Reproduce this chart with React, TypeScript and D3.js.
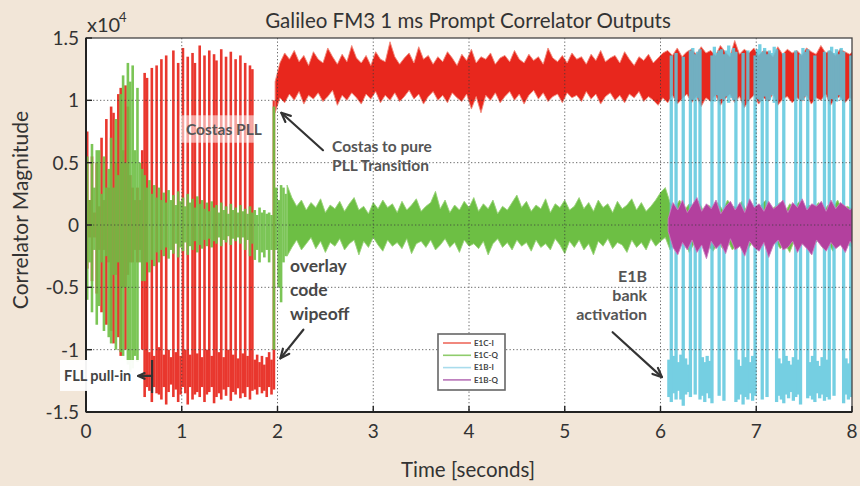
import React from 'react';
import * as d3 from 'd3';

// ---------- axis / tick data ----------
const xTickValues = [0, 1, 2, 3, 4, 5, 6, 7, 8];
const xTickLabels = ['0', '1', '2', '3', '4', '5', '6', '7', '8'];
const yTickValues = [-1.5, -1, -0.5, 0, 0.5, 1, 1.5];
const yTickLabels = ['-1.5', '-1', '-0.5', '0', '0.5', '1', '1.5'];

const seriesNames = ['E1C-I', 'E1C-Q', 'E1B-I', 'E1B-Q'];
const seriesColors = ['#e8271d', '#6dbf44', '#5ec7de', '#b3409e'];
const legendLineColors = ['#ee6a5e', '#8fcc6c', '#a9dcec', '#b873b8'];

// ---------- E1C-I (units of 1e4) : binned columns 0 .. 1.975 s, 25 ms ----------
const e1cIColStart = 0;
const e1cIColStep = 0.025;
const e1cIColHi = [0.75, 0.2, 0.55, 0.1, 0.5, 0.15, 0.7, 0.2, 0.85, 0.3, 0.95, 0.9, 0.5, 1.05, 1.1, 0.6, 1.12, 0.95, 0.4, 0.3, 0.2, 0.3, 0.2, 0.6,
  1.22, 1.18, -1.02, 1.26, -1.05, 1.28, -0.98, 1.33, -1.04, 1.36, -1.0, -1.06, 1.4, -1.02, 1.3, -1.05, 1.42, -1.0, 1.35, -1.04, 1.38, 1.3, -1.03, 1.44, -1.06, 1.36, -1.0, 1.4, -1.05, 1.37, 1.32, -1.02, 1.41, -1.06, 1.35, -1.0, 1.39, -1.04, 1.33, -1.07, 1.36, -1.03, 1.3, -1.05, 1.28, 1.25, -1.08, -1.04, -1.1, -1.05, -1.12, -1.06, -1.02, -1.08, 1.0];
const e1cIColLo = [-0.35, -0.1, -0.45, -0.1, -0.55, -0.2, -0.7, -0.2, -0.8, -0.3, -0.85, -0.95, -0.4, -0.9, -1.05, -0.5, -1.0, -0.4, -0.3, -0.3, -0.2, -0.3, -0.2, -1.0,
  -1.38, -1.3, -1.33, -1.42, -1.3, -1.35, -1.36, -1.4, -1.3, -1.44, -1.34, -1.28, -1.38, -1.32, -1.42, -1.36, -1.3, -1.35, -1.44, -1.3, -1.4, -1.36, -1.34, -1.38, -1.3, -1.42, -1.36, -1.34, -1.3, -1.43, -1.38, -1.35, -1.4, -1.32, -1.37, -1.3, -1.41, -1.34, -1.36, -1.31, -1.39, -1.35, -1.38, -1.3, -1.4, -1.33, -1.32, -1.36, -1.3, -1.35, -1.33, -1.38, -1.3, -1.36, -1.32];

// ---------- E1C-I : noise band after PLL lock, 1.975 .. 8 s, 50 ms ----------
const e1cIBandStart = 1.975;
const e1cIBandStep = 0.05;
const e1cIBandHi = [1.15, 1.3, 1.38, 1.33, 1.4, 1.31, 1.36, 1.28, 1.39, 1.33,
  1.3, 1.42, 1.35, 1.29, 1.37, 1.31, 1.44, 1.34, 1.3, 1.36,
  1.28, 1.39, 1.33, 1.31, 1.47, 1.35, 1.29, 1.34, 1.38, 1.3,
  1.43, 1.33, 1.36, 1.29, 1.35, 1.31, 1.39, 1.34, 1.28, 1.37,
  1.32, 1.41, 1.3, 1.35, 1.33, 1.38, 1.29, 1.34, 1.36, 1.31,
  1.4, 1.33, 1.3, 1.37, 1.32, 1.35, 1.29, 1.42, 1.34, 1.31,
  1.36, 1.3, 1.38, 1.33, 1.35, 1.29, 1.37, 1.32, 1.4, 1.31,
  1.34, 1.36, 1.3, 1.39, 1.33, 1.28, 1.35, 1.32, 1.37, 1.3,
  1.34, 1.38, 1.4, 1.36, 1.42, 1.35, 1.39, 1.41, 1.37, 1.43,
  1.38, 1.4, 1.36, 1.44, 1.39, 1.35, 1.48, 1.37, 1.41, 1.38,
  1.42, 1.36, 1.4, 1.39, 1.35, 1.43, 1.37, 1.41, 1.38, 1.4,
  1.36, 1.42, 1.39, 1.37, 1.44, 1.38, 1.4, 1.36, 1.41, 1.39,
  1.37, 1.4];
const e1cIBandLo = [0.9, 1.02, 0.98, 1.05, 1.0, 1.07, 0.97, 1.04, 1.01, 1.06,
  0.99, 1.03, 1.08, 0.96, 1.04, 1.0, 1.06, 1.02, 0.97, 1.05,
  1.01, 1.07, 0.98, 1.04, 1.0, 1.06, 0.99, 1.03, 1.08, 1.01,
  1.05, 0.97, 1.03, 1.07, 1.0, 1.04, 0.98, 1.06, 1.02, 0.99,
  1.05, 0.93, 1.03, 0.9, 1.04, 1.0, 1.06, 0.98, 1.03, 1.07,
  1.0, 1.05, 0.97, 1.04, 1.08, 1.01, 1.06, 0.99, 1.03, 1.05,
  0.98, 1.06, 1.02, 1.04, 0.99, 1.07, 1.01, 1.05, 0.97, 1.03,
  1.06, 1.0, 1.04, 0.98, 1.05, 1.02, 1.07, 0.99, 1.03, 1.0,
  0.96, 1.02, 0.98, 1.04, 0.97, 1.01, 1.05, 0.98, 1.03, 0.95,
  1.02, 0.99, 1.04, 0.96, 1.01, 1.05, 0.98, 1.03, 0.94, 1.0,
  1.04, 0.97, 1.02, 0.99, 1.05, 0.96, 1.01, 1.03, 0.98, 1.02,
  0.99, 1.04, 0.97, 1.02, 1.0, 1.05, 0.96, 1.01, 1.03, 0.98,
  1.02, 0.99];

// ---------- E1C-Q : binned columns 0 .. 2.1 s, 25 ms ----------
const e1cQColStart = 0;
const e1cQColStep = 0.025;
const e1cQColHi = [0.55, 0.2, 0.65, 0.3, 0.6, 0.6, 0.25, 0.55, 0.3, 0.45, 0.7, 0.3, 0.85, 0.4, 1.05, 1.2, 0.5, 1.3, 1.15, 1.28, 0.6, 1.1, 0.5, 0.45,
  0.4, 0.3, 0.36, 0.25, 0.32, 0.22, 0.3, 0.2,
  0.26, 0.18, 0.28, 0.2, 0.24, 0.16, 0.27, 0.19, 0.22, 0.15, 0.25, 0.18, 0.21, 0.14, 0.23, 0.17,
  0.2, 0.13, 0.18, 0.11, 0.19, 0.14, 0.16, 0.1, 0.18, 0.12, 0.15, 0.09, 0.17, 0.12, 0.14, 0.1, 0.16, 0.11, 0.13, 0.09, 0.15, 0.1, 0.12, 0.08, 0.14, 0.1, 0.12, 0.09,
  0.1, 0.08, 0.95, 0.3, 0.2, 0.32, 0.3, 0.25];
const e1cQColLo = [-0.6, -0.3, -0.7, -0.2, -0.8, -0.65, -0.3, -0.85, -0.25, -0.9, -0.95, -0.4, -1.0, -0.3, -1.02, -1.05, -0.5, -1.12, -1.18, -1.15, -1.05, -1.1, -0.3, -0.45,
  -0.45, -0.3, -0.38, -0.28, -0.33, -0.22, -0.3, -0.2,
  -0.25, -0.18, -0.27, -0.2, -0.23, -0.15, -0.26, -0.18, -0.21, -0.14, -0.24, -0.17, -0.2, -0.13, -0.22, -0.16,
  -0.19, -0.12, -0.17, -0.11, -0.18, -0.13, -0.15, -0.1, -0.17, -0.12, -0.14, -0.09, -0.16, -0.11, -0.13, -0.1, -0.15, -0.1, -0.2, -0.12, -0.25, -0.15, -0.28, -0.2, -0.3, -0.22, -0.26, -0.2,
  -0.3, -0.2, -1.0, -0.2, -0.5, -0.62, -0.3, -0.25];

// ---------- E1C-Q : noise band 2.1 .. 8 s, 50 ms ----------
const e1cQBandStart = 2.1;
const e1cQBandStep = 0.05;
const e1cQBandHi = [0.32, 0.22, 0.15, 0.2, 0.12, 0.18, 0.14, 0.21, 0.1, 0.16,
  0.13, 0.19, 0.11, 0.17, 0.22, 0.12, 0.15, 0.09, 0.18, 0.13,
  0.2, 0.14, 0.17, 0.1, 0.19, 0.12, 0.16, 0.21, 0.11, 0.15,
  0.18, 0.27, 0.13, 0.2, 0.1, 0.16, 0.12, 0.19, 0.14, 0.22,
  0.11, 0.17, 0.13, 0.2, 0.09, 0.15, 0.12, 0.18, 0.24, 0.14,
  0.19, 0.11, 0.16, 0.13, 0.21, 0.1, 0.17, 0.14, 0.2, 0.12,
  0.15, 0.22, 0.13, 0.18, 0.11, 0.2, 0.14, 0.17, 0.1, 0.19,
  0.13, 0.16, 0.21, 0.12, 0.18, 0.11, 0.15, 0.2, 0.26, 0.3,
  0.18, 0.14, 0.2, 0.12, 0.17, 0.15, 0.19, 0.11, 0.16, 0.13,
  0.18, 0.12, 0.2, 0.15, 0.14, 0.19, 0.11, 0.17, 0.13, 0.16,
  0.2, 0.12, 0.15, 0.18, 0.1, 0.17, 0.14, 0.19, 0.12, 0.16,
  0.13, 0.18, 0.11, 0.16, 0.14, 0.2, 0.12, 0.15, 0.13];
const e1cQBandLo = [-0.25, -0.18, -0.12, -0.2, -0.15, -0.1, -0.19, -0.13, -0.22, -0.14,
  -0.17, -0.11, -0.2, -0.15, -0.12, -0.24, -0.13, -0.18, -0.1, -0.16,
  -0.21, -0.12, -0.17, -0.14, -0.19, -0.11, -0.23, -0.15, -0.13, -0.18,
  -0.12, -0.2, -0.16, -0.11, -0.18, -0.14, -0.22, -0.12, -0.17, -0.15,
  -0.19, -0.13, -0.24, -0.15, -0.11, -0.18, -0.14, -0.2, -0.12, -0.17,
  -0.14, -0.21, -0.12, -0.18, -0.15, -0.2, -0.11, -0.16, -0.23, -0.13,
  -0.18, -0.12, -0.2, -0.15, -0.24, -0.13, -0.17, -0.11, -0.19, -0.14,
  -0.16, -0.22, -0.12, -0.18, -0.14, -0.2, -0.11, -0.17, -0.13, -0.1,
  -0.2, -0.14, -0.18, -0.12, -0.22, -0.15, -0.19, -0.13, -0.17, -0.21,
  -0.14, -0.19, -0.12, -0.2, -0.16, -0.13, -0.21, -0.15, -0.18, -0.12,
  -0.17, -0.2, -0.13, -0.19, -0.15, -0.22, -0.12, -0.18, -0.14, -0.2,
  -0.16, -0.12, -0.19, -0.14, -0.21, -0.13, -0.17, -0.15, -0.18];

// ---------- E1B-I : binned columns 6.075 .. 8 s, 25 ms ----------
const e1bIColStart = 6.075;
const e1bIColStep = 0.025;
const e1bIColHi = [-1.08, 1.36, -1.05, 1.38, -1.1, -1.04, 1.35, -1.07, -1.12, 1.4,
  1.42, 1.37, 1.39, 1.41, -1.06, -1.1, -1.05, -1.09, 1.36, 1.43,
  1.38, 1.4, 1.41, 1.37, 1.4, 1.44, 1.38, 1.42, 1.39, -1.08,
  -1.13, 1.38, -1.06, 1.4, -1.1, -1.05, 1.36, 1.41, 1.45, 1.39,
  1.42, 1.37, 1.4, 1.38, 1.43, 1.41, -1.07, -1.11, 1.38, -1.05,
  -1.09, -1.12, -1.06, 1.4, -1.08, 1.37, 1.42, 1.39, 1.41, -1.1,
  -1.05, 1.36, -1.09, -1.13, -1.06, 1.39, -1.08, 1.4, 1.43, 1.38,
  1.41, 1.37, 1.42, 1.39, -1.07, -1.11, 1.36];
const e1bIColLo = [-1.38, -1.42, -1.35, -1.4, -1.33, -1.4, -1.45, -1.36, -1.34, -1.38,
  1.0, -1.36, 1.02, -1.4, -1.37, -1.42, -1.35, -1.39, -1.43, 0.99,
  1.04, -1.37, 1.01, -1.41, 1.03, 0.98, 1.02, 1.0, -1.42, -1.4,
  -1.36, -1.44, -1.38, -1.4, -1.35, -1.41, -1.37, 1.01, 0.99, -1.4,
  1.03, -1.38, 1.0, 1.04, 0.98, -1.42, -1.37, -1.4, -1.43, -1.36,
  -1.39, -1.34, -1.41, -1.38, -1.36, -1.44, 1.0, 1.03, -1.39, -1.37,
  -1.4, -1.42, -1.35, -1.39, -1.36, -1.41, -1.38, -1.4, 1.01, -1.37,
  0.99, 1.04, 1.0, -1.43, -1.36, -1.4, -1.38];

// ---------- E1B-Q : noise band 6.08 .. 8 s, 50 ms ----------
const e1bQBandStart = 6.08;
const e1bQBandStep = 0.05;
const e1bQBandHi = [0.05, 0.18, 0.12, 0.2, 0.1, 0.16, 0.22, 0.11, 0.17, 0.13,
  0.2, 0.09, 0.15, 0.19, 0.12, 0.18, 0.1, 0.21, 0.14, 0.17,
  0.11, 0.19, 0.13, 0.16, 0.2, 0.1, 0.18, 0.14, 0.21, 0.12,
  0.17, 0.15, 0.19, 0.11, 0.2, 0.13, 0.18, 0.15, 0.12, 0.16];
const e1bQBandLo = [-0.05, -0.18, -0.24, -0.14, -0.2, -0.12, -0.22, -0.16, -0.27, -0.13,
  -0.19, -0.15, -0.23, -0.11, -0.2, -0.17, -0.25, -0.13, -0.18, -0.21,
  -0.14, -0.26, -0.16, -0.12, -0.2, -0.18, -0.13, -0.22, -0.15, -0.19,
  -0.24, -0.12, -0.17, -0.21, -0.14, -0.19, -0.16, -0.22, -0.13, -0.18];

// ---------- layout ----------
const W = 860;
const H = 486;
const PL = 86, PR = 852, PT = 38, PB = 412;
const FONT = 'Lato, "Open Sans", "DejaVu Sans", sans-serif';

const x = d3.scaleLinear().domain([0, 8]).range([PL, PR]);
const y = d3.scaleLinear().domain([-1.5, 1.5]).range([PB, PT]);

type Col = { t: number; hi: number; lo: number };
const toCols = (start: number, step: number, hi: number[], lo: number[]): Col[] =>
  hi.map((h, i) => ({ t: start + i * step, hi: h, lo: lo[i] }));

const Columns = ({ start, step, hi, lo, color, opacity = 1, extra = 0.2 }: any) => {
  const cols = toCols(start, step, hi, lo);
  const w = x(step) - x(0);
  return (
    <g fill={color} opacity={opacity}>
      {cols.map((c, i) => (
        <rect key={i} x={x(c.t) - extra / 2} y={y(c.hi)} width={w + extra} height={Math.max(0.8, y(c.lo) - y(c.hi))} />
      ))}
    </g>
  );
};

const Band = ({ start, step, hi, lo, color, edge }: any) => {
  const cols = toCols(start, step, hi, lo);
  const area = d3.area<Col>().x((d) => x(d.t)).y0((d) => y(d.lo)).y1((d) => y(d.hi));
  return (
    <path d={area(cols) || ''} fill={color} stroke={edge} strokeWidth={0.9} strokeLinejoin="round" />
  );
};

const Arrow = ({ t1, v1, t2, v2, head = 10 }: any) => {
  const X1 = x(t1), Y1 = y(v1), X2 = x(t2), Y2 = y(v2);
  const a = Math.atan2(Y2 - Y1, X2 - X1);
  const s = 0.42;
  const p1 = [X2 - head * Math.cos(a - s), Y2 - head * Math.sin(a - s)];
  const p2 = [X2 - head * Math.cos(a + s), Y2 - head * Math.sin(a + s)];
  return (
    <g stroke="#333" strokeWidth={2.2} fill="none" strokeLinecap="round" strokeLinejoin="round">
      <line x1={X1} y1={Y1} x2={X2} y2={Y2} />
      <polyline points={`${p1[0]},${p1[1]} ${X2},${Y2} ${p2[0]},${p2[1]}`} />
    </g>
  );
};

export default function App() {
  const annStyle = { fontFamily: FONT, fontWeight: 700, fill: '#555' } as any;
  return (
    <svg width={W} height={H} style={{ position: 'absolute', left: 0, top: 0, display: 'block' }}>
      <defs>
        <clipPath id="plotClip">
          <rect x={PL} y={PT} width={PR - PL} height={PB - PT} />
        </clipPath>
      </defs>
      <rect x={0} y={0} width={W} height={H} fill="#f2e6d8" />
      <rect x={PL} y={PT} width={PR - PL} height={PB - PT} fill="#ffffff" />

      <g clipPath="url(#plotClip)">
        {/* E1C-I */}
        <Columns start={e1cIColStart} step={e1cIColStep} hi={e1cIColHi} lo={e1cIColLo} color={seriesColors[0]} opacity={0.92} />
        <Band start={e1cIBandStart} step={e1cIBandStep} hi={e1cIBandHi} lo={e1cIBandLo} color={seriesColors[0]} edge="#f08a7c" />
        {/* E1C-Q */}
        <Columns start={e1cQColStart} step={e1cQColStep} hi={e1cQColHi} lo={e1cQColLo} color={seriesColors[1]} opacity={0.9} />
        <Band start={e1cQBandStart} step={e1cQBandStep} hi={e1cQBandHi} lo={e1cQBandLo} color={seriesColors[1]} edge="#9ad37a" />
        {/* E1B-I */}
        <Columns start={e1bIColStart} step={e1bIColStep} hi={e1bIColHi} lo={e1bIColLo} color={seriesColors[2]} opacity={0.85} extra={0.9} />
        {/* E1B-Q */}
        <Band start={e1bQBandStart} step={e1bQBandStep} hi={e1bQBandHi} lo={e1bQBandLo} color={seriesColors[3]} edge="#c97cbf" />

        {/* grid */}
        <g stroke="#3a3a3a" strokeWidth={1} strokeDasharray="1.3 2.2" opacity={0.75}>
          {xTickValues.slice(1, -1).map((t) => (
            <line key={'gx' + t} x1={x(t)} x2={x(t)} y1={PT} y2={PB} />
          ))}
          {yTickValues.slice(1, -1).map((v) => (
            <line key={'gy' + v} x1={PL} x2={PR} y1={y(v)} y2={y(v)} />
          ))}
        </g>
      </g>

      {/* frame + ticks */}
      <rect x={PL} y={PT} width={PR - PL} height={PB - PT} fill="none" stroke="#444" strokeWidth={1.3} />
      <line x1={PL} x2={PL} y1={PT} y2={PB} stroke="#222" strokeWidth={2} />
      <line x1={PL} x2={PR} y1={PB} y2={PB} stroke="#222" strokeWidth={2} />
      <g stroke="#222" strokeWidth={1.4}>
        {xTickValues.map((t) => (
          <line key={'tx' + t} x1={x(t)} x2={x(t)} y1={PB} y2={PB - 6} />
        ))}
        {yTickValues.map((v) => (
          <line key={'ty' + v} x1={PL} x2={PL + 6} y1={y(v)} y2={y(v)} />
        ))}
      </g>

      {/* tick labels */}
      <g fontFamily={FONT} fontSize={19} fill="#333">
        {xTickValues.map((t, i) => (
          <text key={'lx' + t} x={x(t)} y={438} textAnchor="middle">{xTickLabels[i]}</text>
        ))}
        {yTickValues.map((v, i) => (
          <text key={'ly' + v} x={79} y={y(v)} dy="0.36em" textAnchor="end">{yTickLabels[i]}</text>
        ))}
      </g>
      <text x={87} y={32} fontFamily={FONT} fontSize={20} fill="#333">x10</text>
      <text x={119} y={22} fontFamily={FONT} fontSize={13} fill="#333">4</text>

      {/* titles */}
      <text x={468} y={28} textAnchor="middle" fontFamily={FONT} fontSize={20.5} fill="#333">
        Galileo FM3 1 ms Prompt Correlator Outputs
      </text>
      <text x={468} y={477} textAnchor="middle" fontFamily={FONT} fontSize={20.5} fill="#333">
        Time [seconds]
      </text>
      <text transform="translate(28,210) rotate(-90)" textAnchor="middle" fontFamily={FONT} fontSize={21} fill="#333">
        Correlator Magnitude
      </text>

      {/* annotations */}
      <rect x={x(0.98)} y={y(0.88)} width={x(1.9) - x(0.98)} height={y(0.66) - y(0.88)} fill="#ffffff" opacity={0.55} />
      <text x={x(1.44)} y={y(0.72)} textAnchor="middle" fontSize={15.5} style={annStyle}>Costas PLL</text>

      <text x={x(2.57)} y={y(0.586)} fontSize={15.5} style={annStyle}>Costas to pure</text>
      <text x={x(2.57)} y={y(0.433)} fontSize={15.5} style={annStyle}>PLL Transition</text>
      <Arrow t1={2.475} v1={0.6} t2={2.04} v2={0.9} />

      <g fontSize={17.5} style={{ ...annStyle, fill: '#484848' }}>
        <text x={x(2.13)} y={y(-0.38)}>overlay</text>
        <text x={x(2.13)} y={y(-0.57)}>code</text>
        <text x={x(2.13)} y={y(-0.762)}>wipeoff</text>
      </g>
      <Arrow t1={2.27} v1={-0.84} t2={2.03} v2={-1.07} />

      <g fontSize={16} style={annStyle} textAnchor="end">
        <text x={x(5.86)} y={y(-0.457)}>E1B</text>
        <text x={x(5.86)} y={y(-0.61)}>bank</text>
        <text x={x(5.86)} y={y(-0.762)}>activation</text>
      </g>
      <Arrow t1={5.5} v1={-0.86} t2={6.015} v2={-1.22} />

      <rect x={60} y={y(-1.083)} width={x(0.56) - 60} height={y(-1.331) - y(-1.083)} fill="#ffffff" opacity={0.95} />
      <text x={64} y={y(-1.251)} fontSize={14.5} style={{ ...annStyle, fill: '#444' }}>FLL pull-in</text>
      <Arrow t1={0.69} v1={-1.211} t2={0.545} v2={-1.211} head={7} />
      <line x1={x(0.69)} x2={x(0.69)} y1={y(-1.083)} y2={y(-1.348)} stroke="#333" strokeWidth={2.2} />

      {/* legend */}
      <g>
        <rect x={438} y={334} width={67} height={56} fill="#ffffff" stroke="#666" strokeWidth={1.6} />
        {seriesNames.map((n, i) => (
          <g key={n}>
            <line x1={443} x2={471} y1={343 + i * 12.3} y2={343 + i * 12.3} stroke={legendLineColors[i]} strokeWidth={1.6} />
            <text x={474} y={343 + i * 12.3} dy="0.35em" fontFamily={FONT} fontSize={8} fontWeight={700} fill="#444">{n}</text>
          </g>
        ))}
      </g>
    </svg>
  );
}
